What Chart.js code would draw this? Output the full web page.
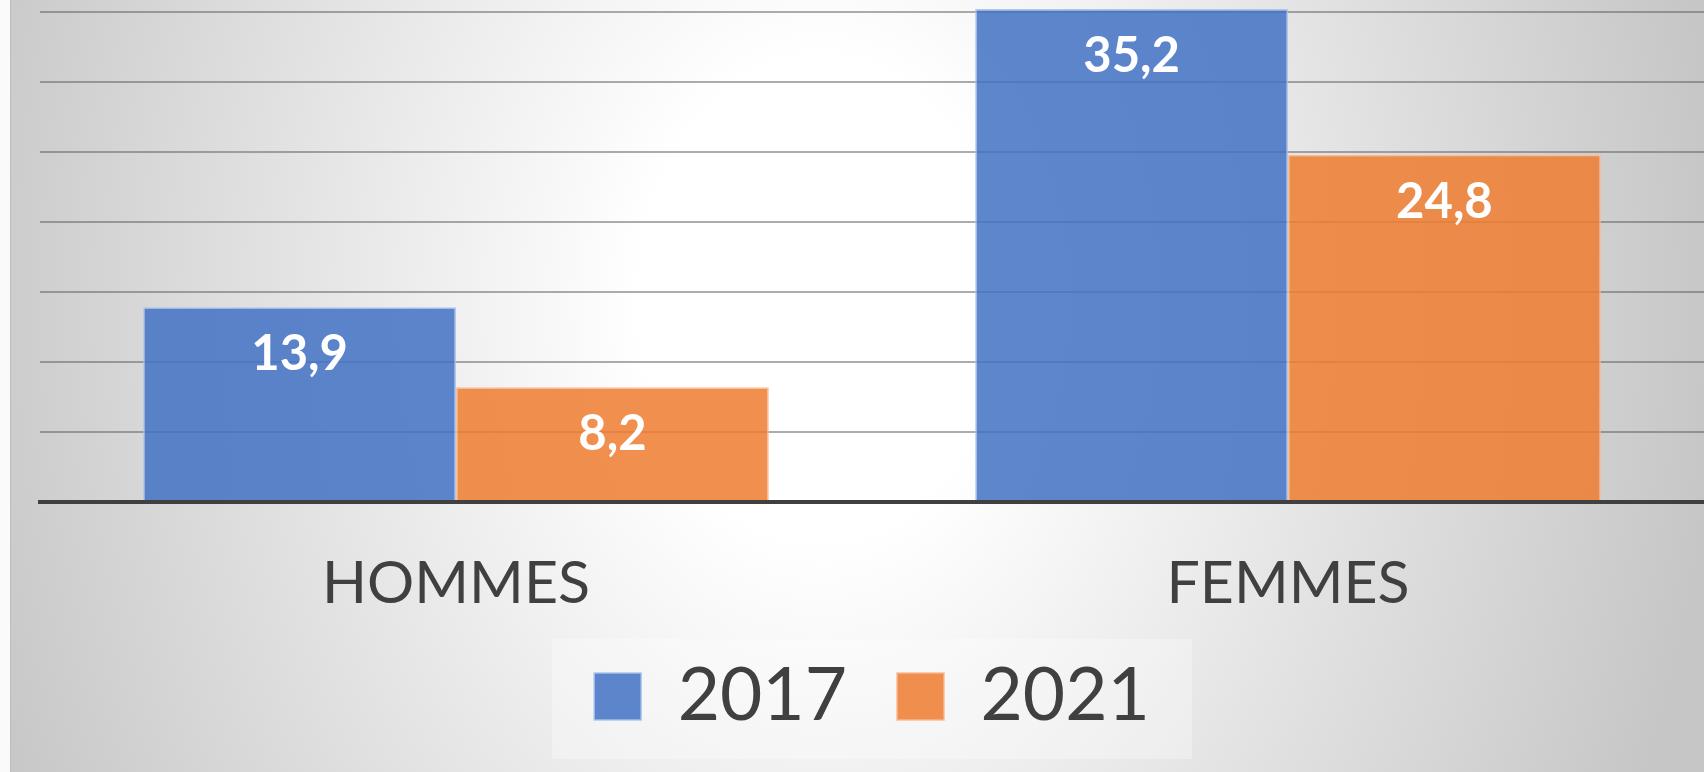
<!DOCTYPE html>
<html>
<head>
<meta charset="utf-8">
<script src="https://cdn.jsdelivr.net/npm/chart.js@4.4.1/dist/chart.umd.min.js"></script>
<style>
  html, body { margin: 0; padding: 0; width: 1704px; height: 772px; overflow: hidden; background: #fafafa; }
  #bg {
    position: absolute; left: 10px; top: 0; width: 1693px; height: 772px;
    border-left: 1px solid #bdbdbd;
    background: radial-gradient(ellipse 900px 1200px at 810px 300px, #ffffff 0%, #ffffff 20%, #c6c6c6 100%);
  }
  canvas { position: absolute; left: 0; top: 0; }
</style>
</head>
<body>
<div id="bg"></div>
<canvas id="chart" width="1704" height="772"></canvas>
<script>
// Data
const categories = ['HOMMES', 'FEMMES'];
const seriesNames = ['2017', '2021'];
const values2017 = [13.9, 35.2];
const values2021 = [8.2, 24.8];
const yStep = 5;
const yMax = 35.85;

Chart.defaults.font.family = "Lato, 'Open Sans', sans-serif";
Chart.defaults.color = '#404040';

// Value labels inside the top of each bar, "13,9" style
const barLabels = {
  id: 'barLabels',
  afterDatasetsDraw(chart) {
    const ctx = chart.ctx;
    ctx.save();
    ctx.fillStyle = '#ffffff';
    ctx.font = "bold 49px Lato, 'Open Sans', sans-serif";
    ctx.textAlign = 'center';
    ctx.textBaseline = 'alphabetic';
    chart.data.datasets.forEach((ds, i) => {
      chart.getDatasetMeta(i).data.forEach((bar, j) => {
        const txt = String(ds.data[j]).replace('.', ',');
        ctx.fillText(txt, bar.x, bar.y + 63);
      });
    });
    ctx.restore();
  }
};

// Center the legend under the plot area and give it its pale box
const legendBox = {
  id: 'legendBox',
  afterLayout(chart) {
    const area = chart.chartArea;
    const lg = chart.legend;
    const shift = (area.left + area.right) / 2 - (lg.left + lg.right) / 2;
    lg.left += shift;
    lg.right += shift;
  },
  beforeDraw(chart) {
    const area = chart.chartArea;
    const lg = chart.legend;
    const cx = (area.left + area.right) / 2;
    const ctx = chart.ctx;
    ctx.save();
    ctx.fillStyle = 'rgba(255,255,255,0.3)';
    ctx.fillRect(cx - 320, lg.top + 29, 640, 120);
    ctx.restore();
  }
};

const ctx = document.getElementById('chart').getContext('2d');
const chart = new Chart(ctx, {
  type: 'bar',
  data: {
    labels: categories,
    datasets: [{
      label: seriesNames[0],
      data: values2017,
      backgroundColor: 'rgba(68,114,196,0.86)',
      borderColor: 'rgba(170,195,235,0.9)',
      borderWidth: 1.5
    }, {
      label: seriesNames[1],
      data: values2021,
      backgroundColor: 'rgba(237,125,49,0.86)',
      borderColor: 'rgba(248,185,145,0.9)',
      borderWidth: 1.5
    }]
  },
  options: {
    responsive: false,
    animation: false,
    layout: { padding: { left: 0, right: 0, top: 0, bottom: 29 } },
    datasets: {
      bar: { categoryPercentage: 0.752, barPercentage: 1.0 }
    },
    scales: {
      x: {
        grid: { display: false, drawTicks: false },
        border: { display: true, color: '#404040', width: 4, z: 1 },
        ticks: { color: '#404040', font: { size: 59 }, padding: 47 },
        afterFit: (s) => { s.height = 108; }
      },
      y: {
        min: 0,
        max: yMax,
        ticks: { display: false, stepSize: yStep, includeBounds: false },
        border: { display: false },
        grid: { color: 'rgba(90,90,90,0.5)', lineWidth: 2, drawTicks: false },
        afterBuildTicks: (s) => { s.ticks = s.ticks.filter(t => t.value % yStep === 0); },
        afterFit: (s) => { s.width = 40; }
      }
    },
    plugins: {
      legend: {
        position: 'bottom',
        labels: {
          boxWidth: 47,
          boxHeight: 47,
          padding: 50,
          color: '#404040',
          font: { size: 73 }
        }
      },
      tooltip: { enabled: false }
    }
  },
  plugins: [barLabels, legendBox]
});
</script>
</body>
</html>
